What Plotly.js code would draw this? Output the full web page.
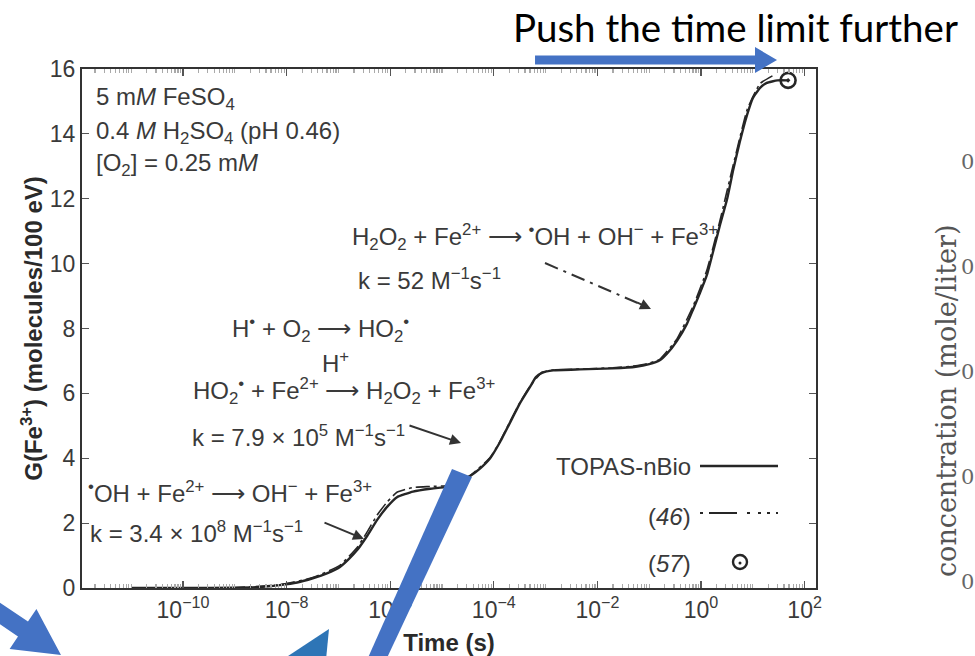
<!DOCTYPE html>
<html><head><meta charset="utf-8">
<script src="https://cdn.plot.ly/plotly-3.0.1.min.js"></script>
<style>html,body{margin:0;padding:0;background:#fff;}#chart{width:975px;height:656px;}</style>
</head><body><div id="chart"></div>
<script>
// ---- data ----
const timeTopas = [1e-11, 1e-10, 1e-9, 3e-9, 7.4e-9, 1.6e-8, 3.2e-8, 6e-8, 1.07e-7, 1.6e-7, 2.3e-7, 3.5e-7, 5.6e-7, 8.7e-7, 1.35e-6, 2.75e-6, 5.9e-6, 1.26e-5, 2.2e-5, 3.5e-5, 5.4e-5, 8.5e-5, 1.32e-4, 2.3e-4, 3.2e-4, 5.0e-4, 6.5e-4, 8.5e-4, 1.4e-3, 4.6e-3, 0.02, 0.055, 0.1, 0.16, 0.22, 0.344, 0.537, 0.70, 0.957, 1.3, 1.7, 2.3, 3.2, 4.2, 5.6, 7.8, 10, 13.8, 18.6, 30, 48];
const gTopas    = [0, 0, 0.01, 0.03, 0.09, 0.17, 0.3, 0.45, 0.65, 0.9, 1.17, 1.58, 2.1, 2.5, 2.8, 2.97, 3.06, 3.12, 3.25, 3.45, 3.68, 4.0, 4.5, 5.25, 5.7, 6.2, 6.5, 6.63, 6.71, 6.74, 6.77, 6.82, 6.9, 7.02, 7.22, 7.62, 8.15, 8.58, 9.1, 9.65, 10.35, 11.16, 12.0, 12.9, 13.75, 14.6, 15.1, 15.42, 15.57, 15.65, 15.65];
const time46 = [1e-11, 1e-9, 7.4e-9, 3.2e-8, 1.07e-7, 2.3e-7, 3.5e-7, 5.6e-7, 8.7e-7, 1.35e-6, 2.75e-6, 5.9e-6, 1.26e-5, 3.5e-5, 8.5e-5, 1.32e-4, 2.3e-4, 3.2e-4, 5.0e-4, 8.5e-4, 1.4e-3, 4.6e-3, 0.02, 0.055, 0.1, 0.16, 0.344, 0.70, 1.3, 2.3, 4.2, 7.8, 13.8, 28];
const g46    = [0, 0.01, 0.1, 0.32, 0.7, 1.25, 1.7, 2.25, 2.65, 2.95, 3.1, 3.13, 3.16, 3.47, 4.02, 4.52, 5.28, 5.72, 6.22, 6.65, 6.72, 6.75, 6.79, 6.85, 6.93, 7.05, 7.68, 8.68, 9.8, 11.3, 13.05, 14.75, 15.55, 15.85];
const time57 = [48];
const g57    = [15.65];
const xTickVals = [1e-10, 1e-8, 1e-6, 1e-4, 1e-2, 1, 100];
const xTickText = ['10<sup>−10</sup>', '10<sup>−8</sup>', '10<sup>−6</sup>', '10<sup>−4</sup>', '10<sup>−2</sup>', '10<sup>0</sup>', '10<sup>2</sup>'];
const yTickVals = [0, 2, 4, 6, 8, 10, 12, 14, 16];
const legendNames = ['TOPAS-nBio', '(<i>46</i>)', '(<i>57</i>)'];
const rightTicks = ['0', '0', '0', '0', '0'];

// ---- layout helpers (pixel -> paper) ----
const L = 82, R = 816, T = 69, B = 588;
const px = x => (x - L) / (R - L);
const py = y => (B - y) / (B - T);
const path = pts => 'M' + pts.map(p => px(p[0]).toFixed(4) + ',' + py(p[1]).toFixed(4)).join(' L') + ' Z';

const FONT = 'Liberation Sans, Arial, sans-serif';
const TXT = '#3a3a3a';
const INK = '#262626';

const traces = [
  {x: timeTopas, y: gTopas, type: 'scatter', mode: 'lines', name: 'TOPAS-nBio',
   line: {color: INK, width: 2.4, shape: 'spline', smoothing: 0.4}, showlegend: false},
  {x: time46, y: g46, type: 'scatter', mode: 'lines', name: '(46)',
   line: {color: INK, width: 1.6, dash: '14px,4px,3px,4px', shape: 'spline', smoothing: 0.4}, showlegend: false},
  {x: time57, y: g57, type: 'scatter', mode: 'markers', name: '(57)',
   marker: {symbol: 'circle-open-dot', size: 15, color: INK, line: {width: 2.6, color: INK}}, showlegend: false, cliponaxis: false}
];

function txt(text, x, y, anchor, extra) {
  return Object.assign({text: text, xref: 'paper', yref: 'paper', x: px(x), y: py(y),
    xanchor: anchor || 'left', yanchor: 'middle', showarrow: false,
    font: {family: FONT, size: 24, color: TXT}}, extra || {});
}
function arrow(x0, y0, x1, y1) {
  return {text: '', xref: 'paper', yref: 'paper', x: px(x1), y: py(y1), ax: x0 - x1, ay: y0 - y1,
    showarrow: true, arrowhead: 2, arrowsize: 1.1, arrowwidth: 2, arrowcolor: '#333'};
}

const annotations = [
  txt('5 m<i>M</i> FeSO<sub>4</sub>', 94, 99),
  txt('0.4 <i>M</i> H<sub>2</sub>SO<sub>4</sub> (pH 0.46)', 94, 132),
  txt('[O<sub>2</sub>] = 0.25 m<i>M</i>', 94, 164),
  txt('H<sub>2</sub>O<sub>2</sub> + Fe<sup>2+</sup> ⟶ <sup>•</sup>OH + OH<sup>−</sup> + Fe<sup>3+</sup>', 350, 237),
  txt('k = 52 M<sup>−1</sup>s<sup>−1</sup>', 356, 279),
  txt('H<sup>•</sup> + O<sub>2</sub> ⟶ HO<sub>2</sub><sup>•</sup>', 230, 329),
  txt('H<sup>+</sup>', 320, 362),
  txt('HO<sub>2</sub><sup>•</sup> + Fe<sup>2+</sup> ⟶ H<sub>2</sub>O<sub>2</sub> + Fe<sup>3+</sup>', 191, 391),
  txt('k = 7.9 × 10<sup>5</sup> M<sup>−1</sup>s<sup>−1</sup>', 190, 436),
  txt('<sup>•</sup>OH + Fe<sup>2+</sup> ⟶ OH<sup>−</sup> + Fe<sup>3+</sup>', 86, 492),
  txt('k = 3.4 × 10<sup>8</sup> M<sup>−1</sup>s<sup>−1</sup>', 88, 532),
  arrow(408, 425, 461, 443),
  arrow(323, 522, 364, 539),
  arrow(636, 302, 651, 309),
  // custom legend texts
  txt(legendNames[0], 693, 466, 'right'),
  txt(legendNames[1], 693, 516, 'right'),
  txt(legendNames[2], 693, 563, 'right'),
  // right-hand neighbour chart fragment
  {text: 'concentration (mole/liter)', xref: 'paper', yref: 'paper', x: px(946), y: py(401),
   textangle: -90, showarrow: false, xanchor: 'center', yanchor: 'middle',
   font: {family: 'DejaVu Serif, serif', size: 27, color: '#555'}}
].concat(rightTicks.map((t, i) => ({text: t, xref: 'paper', yref: 'paper', x: px(976),
   y: py([162, 267, 372, 477, 582][i]), xanchor: 'right', yanchor: 'middle', showarrow: false,
   font: {family: 'DejaVu Serif, serif', size: 21, color: '#666'}})));

const BLUE = '#4472C4';
const shapes = [
  // dash-dot pointer
  {type: 'line', xref: 'paper', yref: 'paper', x0: px(545), y0: py(263), x1: px(640), y1: py(304),
   line: {color: '#333', width: 2, dash: '14px,6px,3px,6px'}},
  // legend samples
  {type: 'line', xref: 'paper', yref: 'paper', x0: px(700), y0: py(466), x1: px(778), y1: py(466),
   line: {color: INK, width: 2.4}},
  {type: 'line', xref: 'paper', yref: 'paper', x0: px(700), y0: py(513), x1: px(778), y1: py(513),
   line: {color: INK, width: 2, dash: '3px,6px,28px,10px,3px,8px,3px,6px'}},
  {type: 'circle', xref: 'paper', yref: 'paper', x0: px(733), y0: py(569), x1: px(747), y1: py(555),
   line: {color: INK, width: 2.4}},
  {type: 'circle', xref: 'paper', yref: 'paper', x0: px(738.5), y0: py(564.5), x1: px(741.5), y1: py(561.5),
   fillcolor: INK, line: {color: INK, width: 0}},
  // blue overlay arrows
  {type: 'path', xref: 'paper', yref: 'paper', layer: 'above', fillcolor: BLUE, line: {width: 0},
   path: path([[535, 55.5], [755, 55.5], [755, 47], [777, 60], [755, 73], [755, 64.5], [535, 64.5]])},
  {type: 'path', xref: 'paper', yref: 'paper', layer: 'above', fillcolor: BLUE, line: {width: 0},
   path: path([[-15, 592.5], [28, 621.5], [36.4, 609], [61, 655], [9.6, 649], [18, 636.5], [-25, 607.5]])},
  {type: 'path', xref: 'paper', yref: 'paper', layer: 'above', fillcolor: '#2E75B6', line: {width: 0},
   path: path([[329, 629], [282, 660], [326, 660]])},
  {type: 'path', xref: 'paper', yref: 'paper', layer: 'above', fillcolor: BLUE, line: {width: 0},
   path: path([[367, 660], [386, 660], [472, 477], [452, 469]])}
];

const layout = {
  width: 975, height: 656,
  margin: {l: L, r: 975 - R, t: T, b: 656 - B, pad: 0},
  paper_bgcolor: '#fff', plot_bgcolor: '#fff',
  showlegend: false,
  title: {text: 'Push the time limit further', xref: 'container', yref: 'container',
          x: 513 / 975, xanchor: 'left', y: 1 - 29 / 656, yanchor: 'middle',
          font: {family: 'Lato, Open Sans, sans-serif', size: 38.5, color: '#000'}},
  xaxis: {type: 'log', range: [-11.95, 2.22], tickvals: xTickVals, ticktext: xTickText,
          ticks: 'inside', ticklen: 7, tickwidth: 1.2, tickcolor: '#555',
          minor: {ticks: 'inside', ticklen: 4, tickcolor: '#aaa', dtick: 'D1'},
          showline: true, linecolor: '#333', linewidth: 2, mirror: 'ticks',
          showgrid: false, zeroline: false,
          tickfont: {family: FONT, size: 23, color: TXT},
          title: {text: '<b>Time (s)</b>', standoff: 15, font: {family: FONT, size: 24, color: '#2a2a2a'}}},
  yaxis: {range: [0, 16], tickvals: yTickVals,
          ticks: 'inside', ticklen: 7, tickwidth: 1.2, tickcolor: '#555',
          showline: true, linecolor: '#333', linewidth: 2, mirror: 'ticks',
          showgrid: false, zeroline: false,
          tickfont: {family: FONT, size: 23, color: TXT},
          title: {text: '<b>G(Fe<sup>3+</sup>) (molecules/100 eV)</b>', standoff: 0,
                  font: {family: FONT, size: 24, color: '#2a2a2a'}}},
  annotations: annotations,
  shapes: shapes
};

Plotly.newPlot('chart', traces, layout, {displayModeBar: false, staticPlot: true});
</script></body></html>
